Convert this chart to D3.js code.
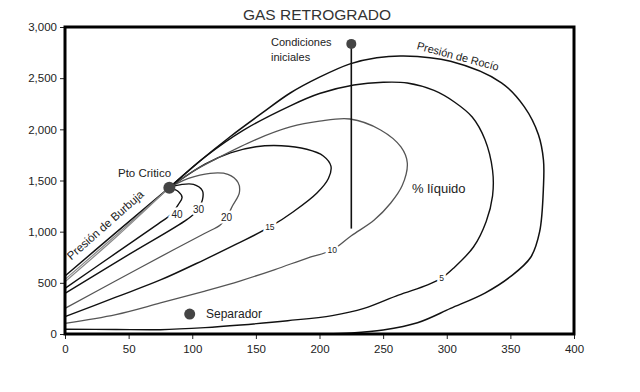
<!DOCTYPE html>
<html><head><meta charset="utf-8">
<script src="https://cdn.jsdelivr.net/npm/d3@7"></script>
<style>body{margin:0;background:#fff}svg{display:block;font-family:"Liberation Sans",Arial,sans-serif}</style>
</head><body><svg id="c" width="640" height="392"></svg>
<script>
// ---- data (temperature, pressure) ----
const xTicks = [0, 50, 100, 150, 200, 250, 300, 350, 400];
const yTicks = [0, 500, 1000, 1500, 2000, 2500, 3000];
const critical = [82, 1430];
const separator = [98, 195];
const initial = [225, 2835];
const initialEnd = [225, 1030];

const bubble = [[0,567],[40,990],[82,1430]];
const q90 = [[0,534],[40,965],[82,1430]];
const q80 = [[0,511],[40,945],[82,1430]];
const q40 = [[0,446],[40,790],[76,1100],[83,1165],[89,1265],[92,1335],[89,1392],[82,1430]];
const q30 = [[0,397],[50,775],[96,1120],[104,1205],[108,1310],[108,1400],[101,1462],[92,1462],[82,1430]];
const q20 = [[0,251],[40,520],[85,821],[110,985],[122,1065],[127,1143],[132,1260],[137,1380],[136,1480],[128,1560],[114,1570],[97,1520],[82,1430]];
const q15 = [[0,169],[40,360],[75,528],[109,723],[135,880],[161,1046],[180,1200],[198,1378],[207,1520],[209,1640],[203,1740],[190,1805],[170,1840],[150,1830],[130,1770],[110,1660],[82,1430]];
const q10 = [[0,104],[40,190],[75,303],[110,420],[138,520],[165,630],[190,740],[210,821],[225,960],[243,1114],[256,1280],[265,1450],[269,1671],[264,1828],[248,1994],[224,2101],[200,2080],[177,2023],[150,1900],[120,1720],[100,1585],[82,1430]];
const q5 = [[0,47],[40,44],[75,42],[110,62],[138,88],[175,130],[210,180],[235,250],[262,380],[285,480],[296,547],[305,640],[321,850],[331,1100],[336,1350],[336,1600],[330,1900],[320,2120],[306,2267],[290,2380],[269,2453],[250,2460],[227,2433],[200,2350],[177,2230],[140,1990],[110,1730],[82,1430]];
const dew = [[82,1430],[105,1680],[130,1930],[155,2160],[177,2355],[200,2510],[224,2640],[245,2700],[266,2717],[303,2665],[343,2455],[361,2220],[372,1950],[376,1700],[376,1440],[373,1000],[366,750],[350,560],[330,400],[303,250],[277,110],[250,40],[225,10],[205,0]];

const curves = [
  {pts: bubble, color: "#111", w: 1.5},
  {pts: q90, color: "#888", w: 1.2},
  {pts: q80, color: "#888", w: 1.2},
  {pts: q40, color: "#111", w: 1.4},
  {pts: q30, color: "#111", w: 1.4},
  {pts: q20, color: "#555", w: 1.3},
  {pts: q15, color: "#111", w: 1.4},
  {pts: q10, color: "#555", w: 1.3},
  {pts: q5, color: "#111", w: 1.4},
  {pts: dew, color: "#111", w: 1.5}
];
const curveLabels = [
  {t:"40", p:[88,1163], s:10},
  {t:"30", p:[105,1212], s:10},
  {t:"20", p:[127,1143], s:10},
  {t:"15", p:[161,1046], s:8.5},
  {t:"10", p:[210,821], s:8.5},
  {t:"5", p:[296,547], s:8.5}
];

// ---- scales ----
const x = d3.scaleLinear().domain([0,400]).range([65,574]);
const y = d3.scaleLinear().domain([0,3000]).range([334,27]);
const svg = d3.select("#c");

svg.append("text").attr("x",317).attr("y",20).attr("text-anchor","middle")
  .attr("font-size",15.5).attr("fill","#333").text("GAS RETROGRADO");

// axes
const ya = svg.append("g").attr("transform","translate(65,0)")
  .call(d3.axisLeft(y).tickValues(yTicks).tickFormat(d3.format(",")).tickSize(5).tickPadding(3));
const xa = svg.append("g").attr("transform","translate(0,334)")
  .call(d3.axisBottom(x).tickValues(xTicks).tickSize(5).tickPadding(6));
[ya,xa].forEach(g=>{
  g.select(".domain").remove();
  g.selectAll("text").attr("font-size",11.5).attr("fill","#222").attr("font-family","Liberation Sans, Arial, sans-serif");
  g.selectAll("line").attr("stroke","#222");
});

// curves
const line = d3.line().x(d=>x(d[0])).y(d=>y(d[1])).curve(d3.curveCatmullRom.alpha(0.5));
svg.append("g").selectAll("path").data(curves).join("path")
  .attr("d", d=>line(d.pts)).attr("fill","none")
  .attr("stroke", d=>d.color).attr("stroke-width", d=>d.w);

// curve labels with halo
svg.append("g").selectAll("text").data(curveLabels).join("text")
  .attr("x", d=>x(d.p[0])).attr("y", d=>y(d.p[1])).attr("dy","0.35em")
  .attr("text-anchor","middle").attr("font-size", d=>d.s).attr("fill","#222")
  .attr("stroke","#fff").attr("stroke-width",5).attr("paint-order","stroke")
  .text(d=>d.t);

// initial conditions line
svg.append("line").attr("x1",x(initial[0])).attr("x2",x(initialEnd[0]))
  .attr("y1",y(initial[1])).attr("y2",y(initialEnd[1])).attr("stroke","#111").attr("stroke-width",1.6);

// dots
svg.append("circle").attr("cx",x(critical[0])).attr("cy",y(critical[1])).attr("r",6).attr("fill","#444");
svg.append("circle").attr("cx",x(separator[0])).attr("cy",y(separator[1])).attr("r",5.5).attr("fill","#444");
svg.append("circle").attr("cx",x(initial[0])).attr("cy",y(initial[1])).attr("r",5).attr("fill","#444");

// text annotations
const T = (t,xx,yy,s,extra)=>{const e=svg.append("text").attr("x",xx).attr("y",yy).attr("font-size",s).attr("fill","#222").text(t); if(extra) extra(e); return e;};
T("Pto Critico",118,177,11.5);
T("Condiciones",271,46,11);
T("iniciales",271,61,11);
T("Separador",206,318,12);
T("% líquido",412,193,13);
T("Presión de Burbuja",0,0,11.5,e=>e.attr("transform","translate(108,228) rotate(-41.5)").attr("text-anchor","middle"));
T("Presión de Rocío",0,0,11,e=>e.attr("transform","translate(457,60) rotate(15)").attr("text-anchor","middle"));

// frame
svg.append("rect").attr("x",65).attr("y",27).attr("width",509).attr("height",307)
  .attr("fill","none").attr("stroke","#000").attr("stroke-width",3);
</script></body></html>
